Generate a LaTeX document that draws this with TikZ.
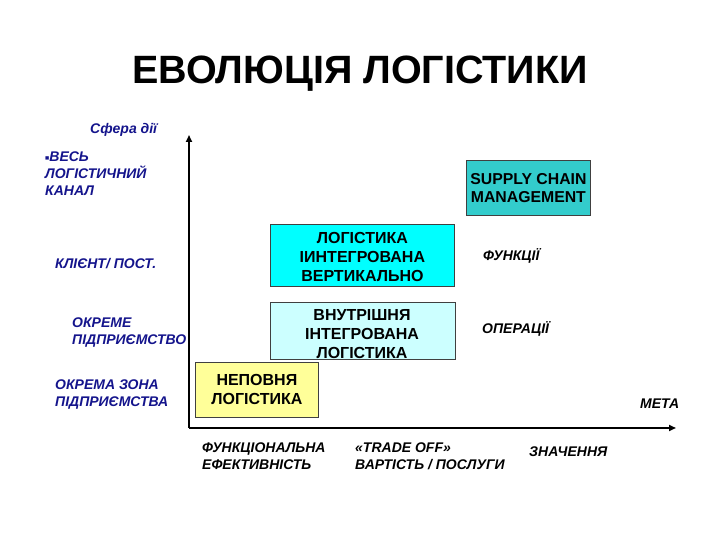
\documentclass[tikz,border=0pt]{standalone}
\usepackage{fontspec}
\setmainfont{Liberation Sans}
\usetikzlibrary{arrows.meta}
\definecolor{lblblue}{RGB}{20,20,140}
\definecolor{boxborder}{RGB}{64,64,64}
\definecolor{yellowfill}{RGB}{255,255,153}
\definecolor{palecyan}{RGB}{204,255,255}
\definecolor{brightcyan}{RGB}{0,255,255}
\definecolor{tealfill}{RGB}{51,204,204}
\begin{document}
\begin{tikzpicture}[x=1pt,y=1pt,
  axisline/.style={line width=2pt,-{Triangle[length=7pt,width=6pt]}},
  ylabel/.style={text=lblblue,font=\fontsize{14}{17}\selectfont\bfseries\itshape,align=left,anchor=north west,inner sep=0pt},
  xlabel/.style={text=black,font=\fontsize{14}{17}\selectfont\bfseries\itshape,align=left,anchor=north west,inner sep=0pt},
  stagebox/.style={draw=boxborder,line width=0.8pt,font=\fontsize{16}{19}\selectfont\bfseries,align=center,inner sep=0pt,anchor=north west},
]
\useasboundingbox (0,0) rectangle (720,540);
\fill[white] (0,0) rectangle (720,540);

% title
\node[font=\fontsize{39.5}{44}\selectfont\bfseries,anchor=base,inner sep=0pt] (title) at (360,456) {ЕВОЛЮЦІЯ ЛОГІСТИКИ};

% axes
\coordinate (origin) at (189,112);
\coordinate (ytop) at (189,405);
\coordinate (xend) at (676,112);
\draw[axisline] (origin) -- (ytop);
\draw[axisline] (origin) -- (xend);

% y labels
\node[ylabel] (sfera) at (90,417) {Сфера дії};
\node[ylabel] (ves) at (45,388) {\fontsize{7}{8}\selectfont\raisebox{1.8pt}{■}\fontsize{14}{17}\selectfont ВЕСЬ\\ ЛОГІСТИЧНИЙ\\ КАНАЛ};
\node[ylabel] (klient) at (55,282) {КЛІЄНТ/ ПОСТ.};
\node[ylabel] (okreme) at (72,222) {ОКРЕМЕ\\ПІДПРИЄМСТВО};
\node[ylabel] (zona) at (55,160) {ОКРЕМА ЗОНА\\ПІДПРИЄМСТВА};

% boxes
\node[stagebox,fill=yellowfill,minimum width=123pt,minimum height=55pt] (nepovnya) at (195,178) {НЕПОВНЯ\\ЛОГІСТИКА};
\node[stagebox,fill=palecyan,minimum width=185pt,minimum height=57pt] (vnutr) at (270,238) {};
\node[font=\fontsize{16}{19}\selectfont\bfseries,align=center,anchor=north,inner sep=0pt] (vnutrtext) at (362,231) {ВНУТРІШНЯ\\ІНТЕГРОВАНА\\ЛОГІСТИКА};
\node[stagebox,fill=brightcyan,minimum width=184pt,minimum height=62pt] (vert) at (270,316) {};
\node[font=\fontsize{16}{19}\selectfont\bfseries,align=center,inner sep=0pt] (verttext) at ([yshift=-2pt]vert.center) {ЛОГІСТИКА\\ІИНТЕГРОВАНА\\ВЕРТИКАЛЬНО};
\node[stagebox,fill=tealfill,minimum width=124pt,minimum height=55pt,font=\fontsize{15.8}{18}\selectfont\bfseries] (scm) at (466,380) {SUPPLY CHAIN\\MANAGEMENT};

% right labels
\node[xlabel] (funk) at (483,292) {ФУНКЦІЇ};
\node[xlabel] (oper) at (482,219) {ОПЕРАЦІЇ};
\node[xlabel] (meta) at (640,141) {МЕТА};

% x labels
\node[xlabel] (fe) at (202,97) {ФУНКЦІОНАЛЬНА\\ЕФЕКТИВНІСТЬ};
\node[xlabel] (trade) at (355,97) {«TRADE OFF»\\ВАРТІСТЬ / ПОСЛУГИ};
\node[xlabel] (znach) at (529,93) {ЗНАЧЕННЯ};
\end{tikzpicture}
\end{document}
